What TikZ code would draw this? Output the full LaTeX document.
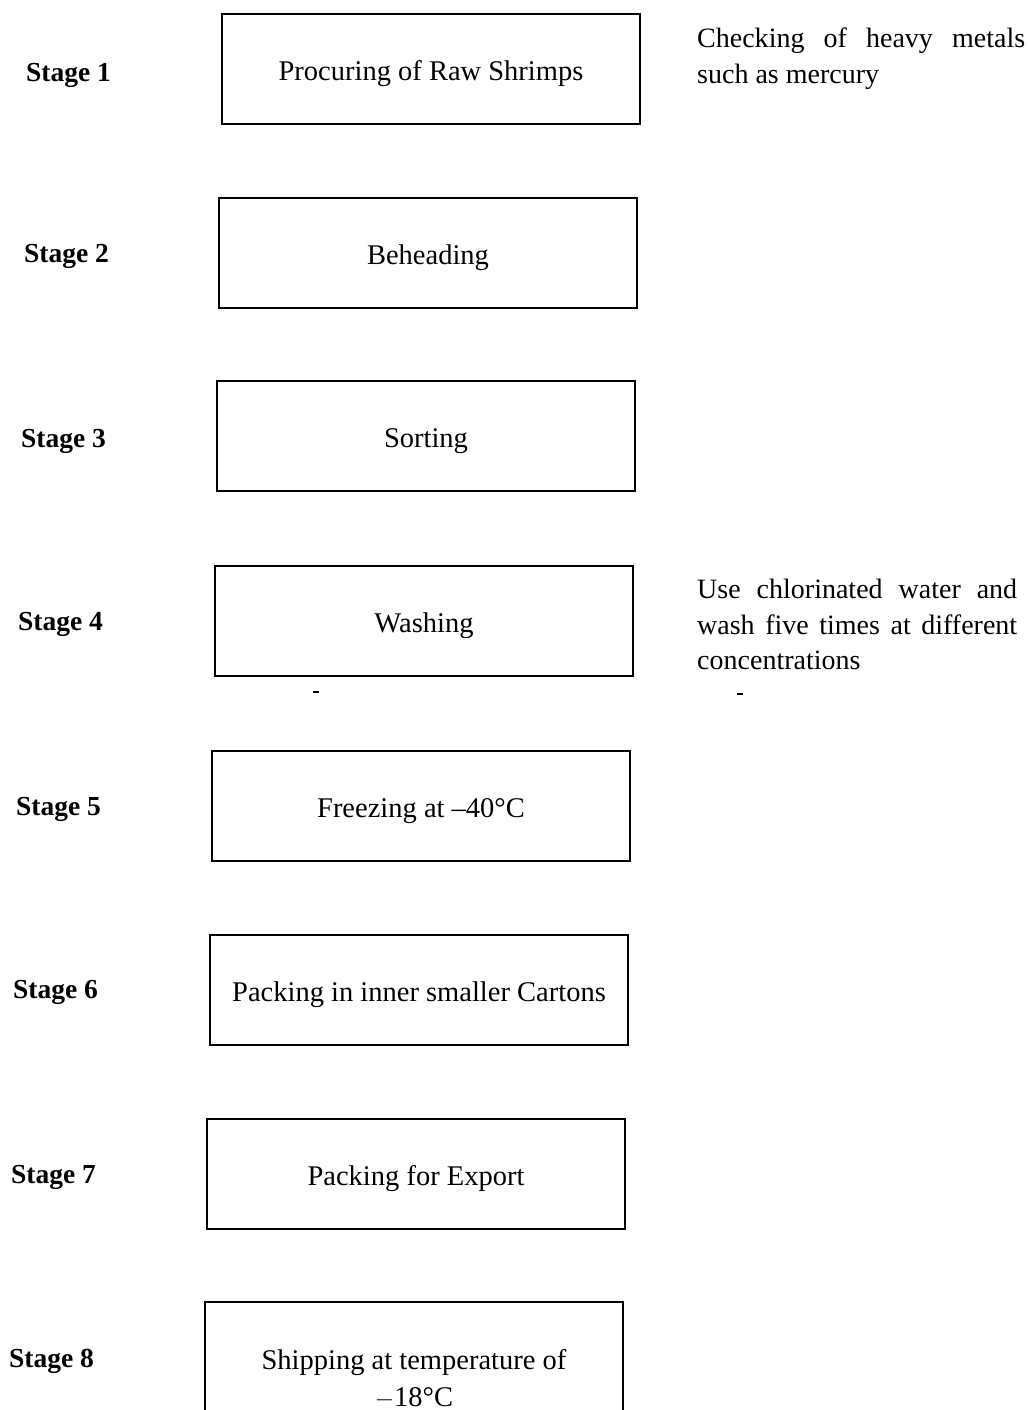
\documentclass[tikz,border=0pt]{standalone}
\usepackage{fontspec}
\setmainfont{Liberation Serif}
\begin{document}
\begin{tikzpicture}[x=1pt,y=1pt,
  stagebox/.style={draw,line width=1.6pt,minimum width=418pt,minimum height=110pt,
    inner sep=0pt,text height=23pt,text depth=0pt,font=\fontsize{28.5}{35}\selectfont},
  stagelabel/.style={anchor=west,inner sep=0pt,font=\fontsize{27.5}{34}\selectfont\bfseries},
  notetext/.style={anchor=north west,inner sep=0pt,align=left,font=\fontsize{28}{35.5}\selectfont},
  speck/.style={line width=2pt}]
\useasboundingbox (0,0) rectangle (1030,-1410);
\clip (0,0) rectangle (1030,-1410);

% stage labels
\node[stagelabel] (s1) at (26,-75) {Stage 1};
\node[stagelabel] (s2) at (24,-256) {Stage 2};
\node[stagelabel] (s3) at (21,-441) {Stage 3};
\node[stagelabel] (s4) at (18,-624) {Stage 4};
\node[stagelabel] (s5) at (16,-809) {Stage 5};
\node[stagelabel] (s6) at (13,-992) {Stage 6};
\node[stagelabel] (s7) at (11,-1177) {Stage 7};
\node[stagelabel] (s8) at (9,-1361) {Stage 8};

% process boxes
\node[stagebox] (b1) at (431,-69) {Procuring of Raw Shrimps};
\node[stagebox] (b2) at (428,-253) {Beheading};
\node[stagebox] (b3) at (426,-436) {Sorting};
\node[stagebox] (b4) at (424,-621) {Washing};
\node[stagebox] (b5) at (421,-806) {Freezing at \textendash40\textdegree C};
\node[stagebox] (b6) at (419,-990) {Packing in inner smaller Cartons};
\node[stagebox] (b7) at (416,-1174) {Packing for Export};
\node[stagebox] (b8) at (414,-1357) {};
\node[inner sep=0pt,align=center,font=\fontsize{28.5}{37}\selectfont] (t8) at (414,-1379)
  {Shipping at temperature of\\ $-$18\textdegree C};

% side notes
\node[notetext] (n1) at (697,-28)
  {\hbox to 328pt{Checking\hfill of\hfill heavy\hfill metals}\\ such as mercury};
\node[notetext] (n4) at (697,-579)
  {\hbox to 320pt{Use\hfill chlorinated\hfill water\hfill and}\\
   \hbox to 320pt{wash five times at different}\\ concentrations};

% small marks below stage 4
\coordinate (m1) at (313,-692);
\coordinate (m2) at (737,-694);
\draw[speck] (m1) -- ++(6,0);
\draw[speck] (m2) -- ++(6,0);
\end{tikzpicture}
\end{document}
